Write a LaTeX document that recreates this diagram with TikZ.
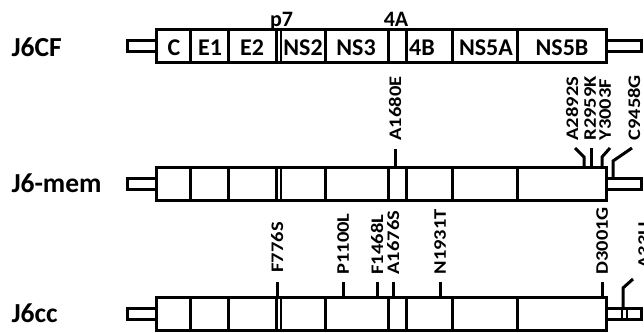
\documentclass[tikz,border=0pt]{standalone}
\usepackage{fontspec}
\setmainfont{Carlito}
\newcommand\mutxt[1]{\scalebox{1}[0.86]{#1}}
\begin{document}
\begin{tikzpicture}[x=1pt,y=-1pt,line width=3pt,
  rowlab/.style={font=\fontsize{27.5}{27.5}\selectfont\bfseries,anchor=base west,inner sep=0pt},
  domlab/.style={font=\fontsize{24}{24}\selectfont\bfseries,anchor=base,inner sep=0pt},
  toplab/.style={font=\fontsize{22}{22}\selectfont\bfseries,anchor=base,inner sep=0pt},
  mutlab/.style={font=\fontsize{20.5}{20.5}\selectfont\bfseries,rotate=90,anchor=west,inner sep=0pt,text depth=0pt},
  tick/.style={line width=3pt}]
\useasboundingbox (0,0) rectangle (644,332);
\newcommand\drawgenome[1]{%
  \draw (127,#1+11) rectangle (156,#1+22);
  \draw (606,#1+11) rectangle (641,#1+22);
  \draw (156,#1) rectangle (606,#1+33);
  \foreach \xx in {190,228,325,388,406,452,517}
    {\draw (\xx,#1) -- (\xx,#1+33);}
  \draw[line width=2.2pt] (276.5,#1) -- (276.5,#1+33);
  \draw[line width=2.2pt] (281,#1) -- (281,#1+33);
}
% rows
\drawgenome{29.5}
\drawgenome{167.5}
\drawgenome{297.5}
\draw[line width=2.2pt] (622,308.5) -- (622,319.5);
\draw[line width=2.2pt] (627,308.5) -- (627,319.5);
% row labels
\node[rowlab] (r1) at (10,56.5) {J6CF};
\node[rowlab] (r2) at (10,192.5) {J6-mem};
\node[rowlab] (r3) at (10,322.5) {J6cc};
% domain labels
\node[domlab] (dC) at (174,55) {C};
\node[domlab] (dE1) at (210,55) {E1};
\node[domlab] (dE2) at (252,55) {E2};
\node[domlab] (dNS2) at (303,55) {NS2};
\node[domlab] (dNS3) at (356,55) {NS3};
\node[domlab] (d4B) at (422,55) {4B};
\node[domlab] (dNS5A) at (486,55) {NS5A};
\node[domlab] (dNS5B) at (562,55) {NS5B};
\node[toplab] (dp7) at (281.5,26) {p7};
\node[toplab] (d4A) at (396,26) {4A};
% J6-mem mutations
\node[mutlab] (m1) at (395,142) {\mutxt{A1680E}};
\coordinate (m1b) at (395,167.5);
\draw (m1.west) ++(0,7) -- (m1b);
\node[mutlab] (m2) at (572,142) {\mutxt{A2892S}};
\coordinate (m2k) at (584,157);
\coordinate (m2b) at (584,167.5);
\draw ([xshift=3pt,yshift=-6pt]m2.west) -- (m2k) -- (m2b);
\node[mutlab] (m3) at (590,142) {\mutxt{R2959K}};
\coordinate (m3b) at (591,167.5);
\draw ([xshift=1pt,yshift=-6pt]m3.west) -- (m3b);
\node[mutlab] (m4) at (605,142) {\mutxt{Y3003F}};
\coordinate (m4k) at (602,157);
\coordinate (m4b) at (602,167.5);
\draw ([xshift=5pt,yshift=-6pt]m4.west) -- (m4k) -- (m4b);
\node[mutlab] (m5) at (634,142) {\mutxt{C9458G}};
\coordinate (m5k) at (613,161);
\coordinate (m5b) at (613,178.5);
\draw ([xshift=-2pt,yshift=-6pt]m5.west) -- (m5k) -- (m5b);
% J6cc mutations
\node[mutlab] (c1) at (277,274) {\mutxt{F776S}};
\coordinate (c1b) at (277,297.5);
\draw (c1.west) ++(0,8) -- (c1b);
\node[mutlab] (c2) at (343,276) {\mutxt{P1100L}};
\coordinate (c2b) at (343,297.5);
\draw (c2.west) ++(0,6) -- (c2b);
\node[mutlab] (c3) at (377,276) {\mutxt{F1468L}};
\coordinate (c3b) at (377,297.5);
\draw (c3.west) ++(0,6) -- (c3b);
\node[mutlab] (c4) at (393,276) {\mutxt{A1676S}};
\coordinate (c4b) at (393,297.5);
\draw (c4.west) ++(0,6) -- (c4b);
\node[mutlab] (c5) at (440,276) {\mutxt{N1931T}};
\coordinate (c5b) at (440,297.5);
\draw (c5.west) ++(0,6) -- (c5b);
\node[mutlab] (c6) at (602,276) {\mutxt{D3001G}};
\coordinate (c6b) at (602,297.5);
\draw (c6.west) ++(0,6) -- (c6b);
\node[mutlab] (c7) at (644,270) {\mutxt{A33U}};
\coordinate (c7k) at (623,288);
\coordinate (c7b) at (623,308.5);
\draw ([xshift=-11pt,yshift=-9pt]c7.west) -- (c7k) -- (c7b);
\end{tikzpicture}
\end{document}
